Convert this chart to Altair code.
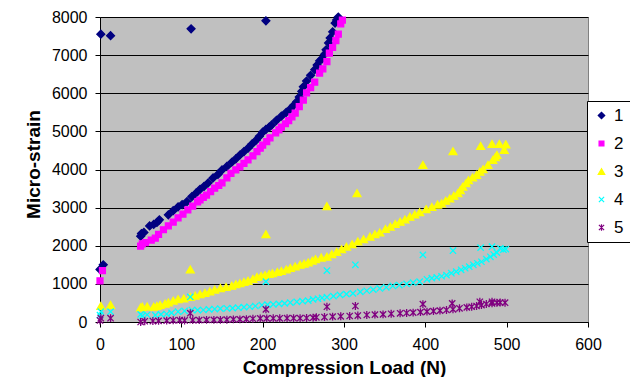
import altair as alt
import pandas as pd

series_names = ["1", "2", "3", "4", "5"]

s1_x = [0, 4, 1, 13, 50, 51, 54, 61, 66, 70, 73, 84, 90, 96, 101, 107, 112, 113, 118, 123, 128, 133, 139, 145,
        150, 156, 162, 167, 172, 177, 182, 187, 192, 196, 200, 204, 204, 208, 211, 217, 223, 229, 234, 238, 242,
        245, 248, 250, 254, 259, 264, 267, 270, 273, 276, 278, 281, 283, 286, 289, 291, 293]
s1_y = [1380, 1500, 7550, 7510, 2250, 2320, 2350, 2520, 2560, 2610, 2680, 2810, 2920, 3020, 3080, 3160, 7690, 3290,
        3380, 3480, 3560, 3650, 3780, 3870, 3990, 4080, 4190, 4280, 4380, 4470, 4560, 4670, 4770, 4870, 4980, 7900,
        5050, 5110, 5170, 5290, 5400, 5500, 5590, 5680, 5780, 5900, 6050, 6170, 6320, 6470, 6620, 6740, 6850, 6900,
        7020, 7140, 7320, 7450, 7610, 7840, 7920, 8000]

s2_x = [0, 3, 50, 52, 56, 63, 68, 72, 78, 84, 90, 96, 102, 108, 114, 120, 123, 127, 131, 136, 141, 146, 150, 156,
        161, 167, 172, 177, 182, 188, 193, 197, 200, 205, 209, 216, 220, 223, 228, 232, 236, 240, 245, 250, 254,
        259, 264, 270, 274, 279, 282, 286, 290, 293, 296, 298]
s2_y = [1080, 1350, 1990, 2050, 2080, 2150, 2200, 2300, 2420, 2520, 2620, 2730, 2830, 2940, 3040, 3150, 3200, 3270,
        3330, 3420, 3510, 3580, 3650, 3780, 3900, 3990, 4070, 4160, 4250, 4360, 4470, 4560, 4640, 4730, 4830, 4960,
        5040, 5110, 5200, 5280, 5380, 5480, 5650, 5820, 6010, 6150, 6290, 6530, 6640, 6830, 7050, 7200, 7380, 7550,
        7820, 7920]

s3_x = [1, 13, 50, 52, 58, 66, 70, 74, 80, 84, 90, 96, 103, 111, 111, 117, 123, 129, 135, 141, 148, 155, 162, 167,
        172, 177, 182, 188, 193, 198, 203, 204, 208, 212, 218, 223, 229, 234, 240, 246, 251, 256, 261, 265, 272,
        279, 279, 285, 291, 297, 303, 310, 316, 317, 324, 332, 338, 344, 351, 357, 363, 369, 375, 381, 387, 393,
        397, 401, 408, 415, 420, 425, 430, 434, 435, 440, 443, 446, 450, 453, 458, 463, 467, 468, 471, 477, 482,
        483, 486, 488, 491, 497, 499]
s3_y = [420, 450, 380, 400, 410, 400, 420, 450, 480, 510, 560, 600, 620, 660, 1380, 690, 730, 760, 800, 850, 890,
        920, 950, 990, 1020, 1050, 1080, 1130, 1180, 1210, 1230, 2300, 1260, 1280, 1310, 1340, 1380, 1420, 1460,
        1500, 1530, 1560, 1610, 1650, 1690, 1715, 3040, 1780, 1840, 1910, 1975, 2040, 3380, 2110, 2170, 2240, 2300,
        2350, 2440, 2500, 2570, 2630, 2690, 2760, 2820, 2880, 4120, 2960, 3020, 3080, 3110, 3180, 3240, 4480, 3310,
        3380, 3460, 3550, 3640, 3720, 3790, 3860, 3940, 4620, 4010, 4120, 4670, 4250, 4320, 4380, 4670, 4510, 4660]

s4_x = [0, 1, 13, 50, 52, 58, 68, 75, 82, 88, 96, 104, 111, 113, 120, 127, 134, 141, 148, 156, 163, 170, 177, 184,
        191, 199, 204, 206, 213, 220, 227, 234, 242, 249, 256, 262, 268, 273, 279, 279, 287, 295, 303, 311, 314,
        320, 328, 336, 344, 352, 360, 368, 377, 385, 393, 397, 402, 408, 414, 420, 426, 432, 434, 438, 444, 449,
        454, 459, 464, 468, 469, 475, 480, 482, 484, 488, 492, 496, 499]
s4_y = [180, 270, 270, 200, 160, 190, 180, 200, 210, 240, 270, 290, 660, 315, 310, 315, 330, 340, 350, 360, 365,
        375, 390, 400, 420, 445, 1060, 455, 465, 475, 490, 510, 530, 545, 560, 595, 610, 630, 650, 1350, 680, 710,
        730, 750, 1500, 790, 820, 850, 880, 910, 945, 970, 1000, 1030, 1060, 1760, 1120, 1150, 1170, 1200, 1230,
        1280, 1870, 1320, 1370, 1410, 1450, 1500, 1540, 1950, 1580, 1650, 1710, 1975, 1770, 1820, 1930, 1900, 1910]

s5_x = [0, 1, 13, 50, 55, 65, 72, 82, 90, 98, 104, 111, 114, 122, 131, 140, 148, 156, 164, 172, 180, 188, 197, 204,
        205, 213, 221, 230, 238, 246, 254, 262, 266, 276, 279, 286, 296, 307, 314, 317, 328, 338, 348, 358, 369,
        377, 385, 394, 397, 402, 410, 418, 426, 433, 434, 442, 451, 457, 463, 467, 469, 475, 482, 482, 488, 492,
        498]
s5_y = [40, 100, 100, 0, 20, 25, 30, 35, 45, 50, 40, 230, 50, 50, 55, 55, 55, 60, 70, 70, 75, 85, 95, 330, 95, 97,
        97, 100, 100, 100, 105, 113, 123, 130, 400, 140, 150, 157, 420, 170, 184, 195, 201, 215, 228, 236, 245, 258,
        470, 271, 285, 297, 315, 490, 333, 360, 385, 400, 420, 530, 445, 472, 530, 490, 506, 510, 506]

x_ticks = [0, 100, 200, 300, 400, 500, 600]
y_ticks = [0, 1000, 2000, 3000, 4000, 5000, 6000, 7000, 8000]

colors = ["#000080", "#FF00FF", "#FFFF00", "#00FFFF", "#800080"]
fills = ["#000080", "#FF00FF", "#FFFF00", "transparent", "transparent"]
shapes = ["diamond",
          "M-0.75,-0.75L0.75,-0.75L0.75,0.75L-0.75,0.75Z",
          "triangle-up",
          "M-0.8,-0.8L0.8,0.8M0.8,-0.8L-0.8,0.8",
          "M-0.8,-0.8L0.8,0.8M0.8,-0.8L-0.8,0.8M0,-1L0,1"]

rows = []
for name, xs, ys in zip(series_names, [s1_x, s2_x, s3_x, s4_x, s5_x], [s1_y, s2_y, s3_y, s4_y, s5_y]):
    for xv, yv in zip(xs, ys):
        rows.append({"load": xv, "strain": yv, "series": name})
df = pd.DataFrame(rows)

FONT = "Liberation Sans"

legend = alt.Legend(
    title=None, orient="none", legendX=487, legendY=84,
    strokeColor="black", fillColor="white", padding=6,
    labelFont=FONT, labelFontSize=17, labelColor="black",
    symbolSize=42, rowPadding=10, labelOffset=4, symbolStrokeWidth=1.2,
)

chart = alt.Chart(df).mark_point(opacity=1, strokeWidth=1.3, size=62, clip=False).encode(
    x=alt.X("load:Q", scale=alt.Scale(domain=[0, 600], nice=False),
            axis=alt.Axis(values=x_ticks, format="d", title="Compression Load (N)", grid=False,
                          labelFlush=False, labelOverlap=False, tickSize=5, labelPadding=9,
                          titleX=244, titleY=51, titleBaseline="alphabetic", titleAlign="center")),
    y=alt.Y("strain:Q", scale=alt.Scale(domain=[0, 8000], nice=False),
            axis=alt.Axis(values=y_ticks, format="d", title="Micro-strain", grid=True,
                          labelFlush=False, labelOverlap=False, tickSize=5, labelPadding=8,
                          titleX=-61, titleY=147, titleBaseline="alphabetic", titleAlign="center",
                          titleAngle=270)),
    shape=alt.Shape("series:N", scale=alt.Scale(domain=series_names, range=shapes), legend=legend),
    stroke=alt.Stroke("series:N", scale=alt.Scale(domain=series_names, range=colors), legend=legend),
    fill=alt.Fill("series:N", scale=alt.Scale(domain=series_names, range=fills), legend=legend),
).properties(
    width=488, height=305,
    autosize=alt.AutoSizeParams(type="none"),
    padding={"left": 92, "top": 9, "right": 42, "bottom": 55},
    background="white",
).configure_view(
    fill="#C0C0C0", stroke="#808080", strokeWidth=1
).configure_axis(
    labelFont=FONT, labelFontSize=16, labelColor="black",
    titleFont=FONT, titleFontSize=19, titleFontWeight="bold", titleColor="black",
    domainColor="black", domainWidth=1, tickColor="black", tickWidth=1,
    gridColor="black", gridWidth=1, gridOpacity=1,
)

chart.save("out.html", embed_options={"renderer": "svg", "actions": False})
